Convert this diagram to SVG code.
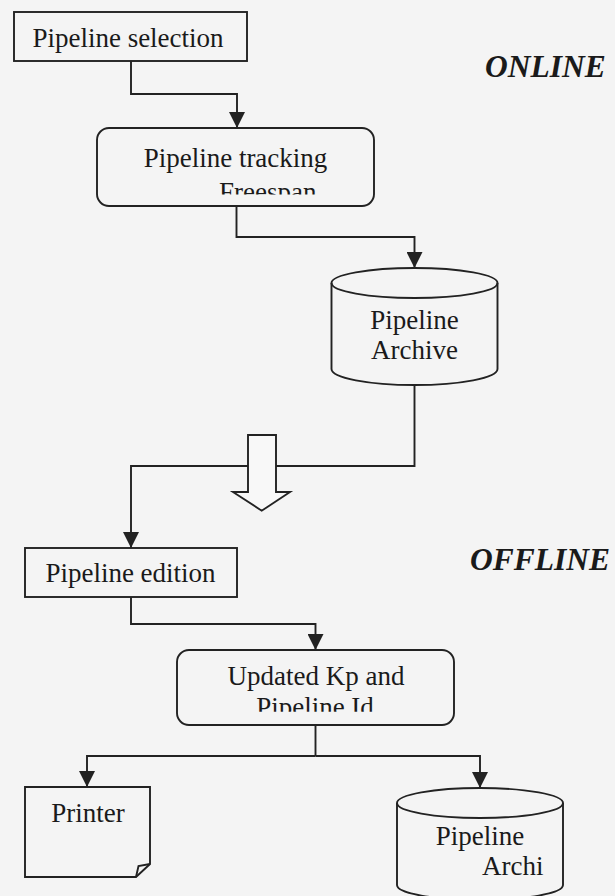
<svg xmlns="http://www.w3.org/2000/svg" width="615" height="896" viewBox="0 0 615 896">
<style>
.bg{fill:#f4f4f4}
.n{fill:none;stroke:#222;stroke-width:1.9}
.c{fill:none;stroke:#222;stroke-width:1.9}
.t{font-family:"Liberation Serif","Times New Roman",serif;font-size:27px;fill:#1a1a1a}
.h{font-family:"Liberation Serif","Times New Roman",serif;font-size:31.5px;font-weight:bold;font-style:italic;fill:#1a1a1a}
</style>
<defs>
<marker id="ah" markerUnits="userSpaceOnUse" markerWidth="16" markerHeight="16" refX="16" refY="8" orient="auto">
<path d="M0,0 L16,8 L0,16 z" fill="#222"/>
</marker>
<clipPath id="clip1"><rect x="90" y="120" width="300" height="74.5"/></clipPath>
<clipPath id="clip2"><rect x="170" y="640" width="300" height="71.7"/></clipPath>
</defs>
<rect class="bg" x="0" y="0" width="615" height="896"/>
<g id="labels">
<text class="h" x="485" y="77">ONLINE</text>
<text class="h" x="470" y="570">OFFLINE</text>
</g>
<g id="connectors">
<path class="c" d="M131,61 V94 H237 V128" marker-end="url(#ah)"/>
<path class="c" d="M236.5,206 V237 H414.5 V268" marker-end="url(#ah)"/>
<path class="c" d="M414.5,385 V466 H131 V548" marker-end="url(#ah)"/>
<path class="c" d="M131,597 V624 H315.5 V650" marker-end="url(#ah)"/>
<path class="c" d="M315.5,725 V756"/>
<path class="c" d="M315.5,756 H87 V787" marker-end="url(#ah)"/>
<path class="c" d="M315.5,756 H480 V788" marker-end="url(#ah)"/>
<path id="transition" d="M248,435 H276 V492 H290 L261.7,510.7 L233,492 H248 Z" fill="#f8f8f8" stroke="#222" stroke-width="1.9"/>
</g>
<g id="pipeline-selection">
<rect class="n" x="14" y="12" width="233" height="49"/>
<text class="t" x="128" y="47" text-anchor="middle">Pipeline selection</text>
</g>
<g id="pipeline-tracking">
<rect class="n" x="97" y="128" width="277" height="78" rx="12"/>
<text class="t" x="235.5" y="167" text-anchor="middle">Pipeline tracking</text>
<text class="t" x="219" y="201" clip-path="url(#clip1)">Freespan</text>
</g>
<g id="pipeline-archive">
<path class="n" d="M331.5,283 V369 A83,16 0 0 0 497.5,369 V283 A83,15 0 0 0 331.5,283 Z"/>
<path class="n" d="M331.5,283 A83,15 0 0 0 497.5,283"/>
<text class="t" x="414.5" y="329" text-anchor="middle">Pipeline</text>
<text class="t" x="414.5" y="359" text-anchor="middle">Archive</text>
</g>
<g id="pipeline-edition">
<rect class="n" x="25" y="548" width="212" height="49"/>
<text class="t" x="130.5" y="582" text-anchor="middle">Pipeline edition</text>
</g>
<g id="updated-kp">
<rect class="n" x="177" y="650" width="277" height="75" rx="12"/>
<text class="t" x="316" y="685" text-anchor="middle">Updated Kp and</text>
<text class="t" x="315" y="716" text-anchor="middle" clip-path="url(#clip2)">Pipeline Id</text>
</g>
<g id="printer">
<path class="n" d="M25,787 H150 V864 L136,877 H25 Z"/>
<path class="n" d="M150,864 L138.5,866 L136,877"/>
<text class="t" x="88" y="822" text-anchor="middle">Printer</text>
</g>
<g id="pipeline-archive-2">
<path class="n" d="M397,803 V885 A83,15 0 0 0 563,885 V803 A83,15 0 0 0 397,803 Z"/>
<path class="n" d="M397,803 A83,15 0 0 0 563,803"/>
<text class="t" x="480" y="845" text-anchor="middle">Pipeline</text>
<text class="t" x="482" y="875">Archi</text>
</g>
</svg>
